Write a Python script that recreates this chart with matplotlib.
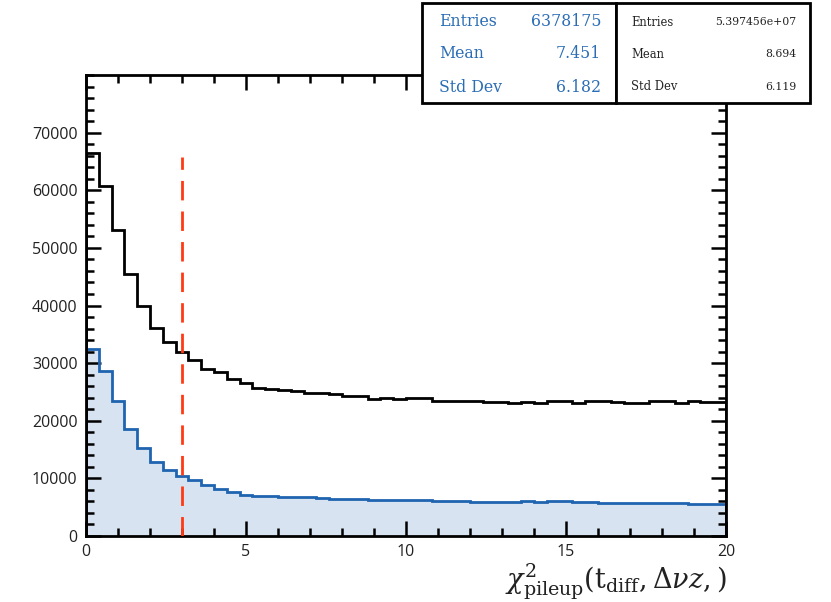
import numpy as np
import matplotlib
matplotlib.use("Agg")
import matplotlib.pyplot as plt
from matplotlib.patches import Rectangle
from matplotlib.ticker import MultipleLocator, FixedLocator

plt.rcParams['mathtext.fontset'] = 'dejavuserif'
plt.rcParams['font.family'] = ['Open Sans', 'DejaVu Sans']

bin_edges = np.linspace(0, 20, 51)

black_counts = [66500, 60700, 53100, 45500, 40000, 36100, 33600, 32000, 30600, 29000,
                28400, 27200, 26600, 25700, 25500, 25300, 25200, 24800, 24800, 24600,
                24300, 24300, 23700, 24000, 23700, 23900, 24000, 23500, 23500, 23400,
                23400, 23200, 23300, 23000, 23300, 23000, 23500, 23500, 23100, 23500,
                23400, 23300, 23100, 23100, 23400, 23400, 23100, 23500, 23200, 23300]

blue_counts = [32400, 28700, 23400, 18600, 15300, 12800, 11400, 10400, 9700, 8800,
               8100, 7700, 7200, 7000, 6900, 6800, 6800, 6700, 6600, 6500,
               6500, 6400, 6300, 6300, 6300, 6200, 6200, 6100, 6100, 6000,
               5900, 5900, 5900, 5900, 6000, 5900, 6100, 6000, 5900, 5900,
               5800, 5800, 5800, 5700, 5700, 5800, 5800, 5600, 5600, 5600]

cut_x = 3.0
cut_top = 65800

y_ticks = [0, 10000, 20000, 30000, 40000, 50000, 60000, 70000]

blue_stats = [("Entries", "6378175"), ("Mean", "7.451"), ("Std Dev", "6.182")]
black_stats = [("Entries", "5.397456e+07"), ("Mean", "8.694"), ("Std Dev", "6.119")]

W, H = 831, 602
fig = plt.figure(figsize=(W / 100, H / 100), dpi=100)
ax = fig.add_axes([86 / W, (H - 536) / H, 640 / W, 461 / H])

blue_line = '#1f64b0'
blue_fill = '#d7e3f0'

ax.stairs(blue_counts, bin_edges, fill=True, color=blue_fill, zorder=1)
ax.stairs(blue_counts, bin_edges, color=blue_line, lw=2, zorder=2)
ax.stairs(black_counts, bin_edges, color='black', lw=2, zorder=3)
ax.plot([cut_x, cut_x], [0, cut_top], color='#ff3a12', lw=2, ls=(0, (7, 4)), zorder=4)

ax.set_xlim(0, 20)
ax.set_ylim(0, 80000)
ax.xaxis.set_major_locator(MultipleLocator(5))
ax.xaxis.set_minor_locator(MultipleLocator(1))
ax.yaxis.set_major_locator(FixedLocator(y_ticks))
ax.yaxis.set_minor_locator(MultipleLocator(2000))
ax.tick_params(which='both', direction='in', top=True, right=True, width=1.8,
               labelsize=11.5, pad=6)
ax.tick_params(which='major', length=11)
ax.tick_params(which='minor', length=6)
for lab in ax.get_xticklabels() + ax.get_yticklabels():
    lab.set_color('#222222')
for s in ax.spines.values():
    s.set_linewidth(2)

fig.text(727 / W, 1 - 589 / H,
         r'$\chi^2_{\mathrm{pileup}}(\mathrm{t_{diff}}, \Delta\nu z, )$',
         ha='right', va='baseline', fontsize=19.5, color='#222222')

# stats boxes
def box(x0, x1, y0, y1):
    fig.add_artist(Rectangle((x0 / W, 1 - y1 / H), (x1 - x0) / W, (y1 - y0) / H,
                             transform=fig.transFigure, facecolor='white',
                             edgecolor='black', lw=2, zorder=10))

box(422, 616, 3, 103)
box(616, 810, 3, 103)
rows_y = [22, 54, 87]
for (name, val), yy in zip(blue_stats, rows_y):
    fig.text(439 / W, 1 - yy / H, name, ha='left', va='center', fontsize=11.3,
             family='DejaVu Serif', color='#2a6db5', zorder=11)
    fig.text(601 / W, 1 - yy / H, val, ha='right', va='center', fontsize=11.3,
             family='DejaVu Serif', color='#2a6db5', zorder=11)
for (name, val), yy in zip(black_stats, rows_y):
    fig.text(631 / W, 1 - yy / H, name, ha='left', va='center', fontsize=8.3,
             family='DejaVu Serif', color='#222222', zorder=11)
    fig.text(796 / W, 1 - yy / H, val, ha='right', va='center', fontsize=7.8,
             family='DejaVu Serif', color='#222222', zorder=11)

fig.savefig('out.png', dpi=100)
